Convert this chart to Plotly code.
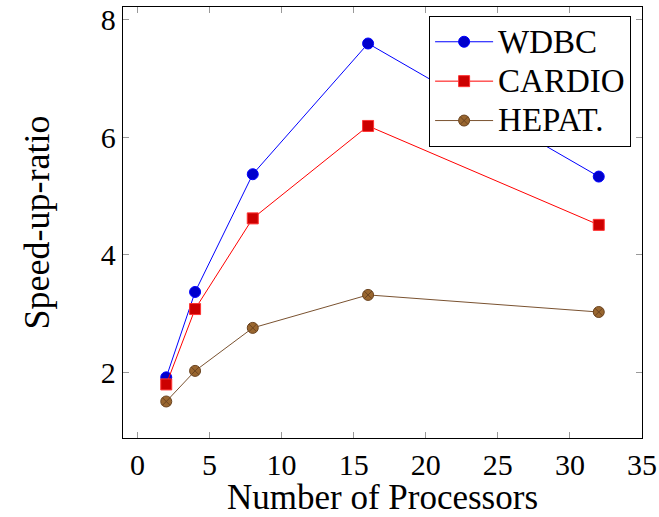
import plotly.graph_objects as go

processors = [2, 4, 8, 16, 32]
wdbc = [1.92, 3.37, 5.37, 7.59, 5.33]
cardio = [1.80, 3.08, 4.62, 6.19, 4.51]
hepat = [1.51, 2.03, 2.76, 3.32, 3.03]
series_names = ["WDBC", "CARDIO", "HEPAT."]

x_ticks = [0, 5, 10, 15, 20, 25, 30, 35]
y_ticks = [2, 4, 6, 8]


def legend_label(name):
    return f'<span style="font-size:33px">{name}</span>'


fig = go.Figure()
fig.add_trace(go.Scatter(x=processors, y=wdbc, name=legend_label(series_names[0]), mode="lines+markers",
                         line=dict(color="#0000FF", width=1),
                         marker=dict(symbol="circle", size=11, color="#0000CC",
                                     line=dict(color="#0000FF", width=1))))
fig.add_trace(go.Scatter(x=processors, y=cardio, name=legend_label(series_names[1]), mode="lines+markers",
                         line=dict(color="#FF0000", width=1),
                         marker=dict(symbol="square", size=11, color="#CC0000",
                                     line=dict(color="#FF3333", width=1))))
fig.add_trace(go.Scatter(x=processors, y=hepat, name=legend_label(series_names[2]), mode="lines+markers",
                         line=dict(color="#7A5230", width=1),
                         marker=dict(symbol="circle-x", size=11, color="#99662F",
                                     line=dict(color="#6B4420", width=1))))

font_family = "Liberation Serif"
fig.update_layout(
    width=659, height=517,
    margin=dict(l=123, r=17, t=7, b=79),
    paper_bgcolor="white", plot_bgcolor="white",
    font=dict(family=font_family, color="black", size=26),
    showlegend=True,
    legend=dict(x=0.979, y=0.979, xanchor="right", yanchor="top",
                bordercolor="black", borderwidth=1, bgcolor="white",
                font=dict(size=28, family=font_family), itemwidth=58,
                tracegroupgap=0),
    xaxis=dict(range=[-1, 35], tickvals=x_ticks, ticks="inside", ticklen=6,
               tickcolor="#999999", showline=True, linecolor="black", linewidth=1.3,
               mirror="allticks", showgrid=False, zeroline=False, automargin=False,
               ticklabeloverflow="allow",
               tickfont=dict(size=30, family=font_family),
               title=dict(text="Number of Processors", font=dict(size=35), standoff=2)),
    yaxis=dict(range=[0.89, 8.21], tickvals=y_ticks, ticks="inside", ticklen=6,
               tickcolor="#999999", showline=True, linecolor="black", linewidth=1.3,
               mirror="allticks", showgrid=False, zeroline=False, automargin=False,
               ticklabeloverflow="allow",
               tickfont=dict(size=30, family=font_family),
               title=dict(text="Speed-up-ratio", font=dict(size=36), standoff=40)),
)
fig.write_html("out.html", config={"displayModeBar": False},
               post_script="document.body.style.margin='0';document.body.style.overflow='hidden';")
